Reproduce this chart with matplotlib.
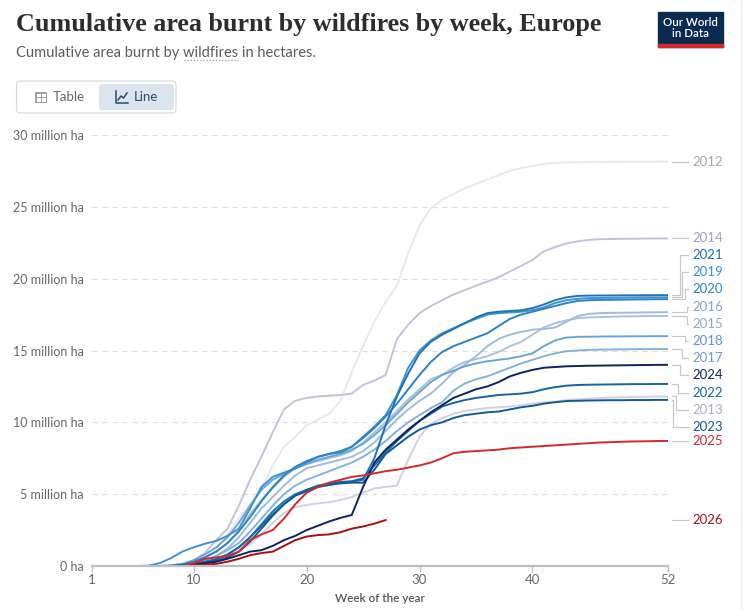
import matplotlib
matplotlib.use("Agg")
import matplotlib.pyplot as plt
import numpy as np
from matplotlib.patches import FancyBboxPatch, Rectangle
from matplotlib.lines import Line2D
from matplotlib.transforms import IdentityTransform

plt.rcParams['font.family'] = ['Lato', 'DejaVu Sans']

# cumulative burnt area, million ha, weeks 1..52
weeks = np.arange(1, 53)

y2012 = [0, 0, 0, 0, 0, 0, 0, 0, 0.05, 0.2, 0.5, 1.2, 2.2, 3.3, 4.3, 5.4, 7.0, 8.3, 9.0, 9.8,
         10.2, 10.6, 11.5, 13.5, 15.3, 17.0, 18.4, 19.5, 21.8, 23.7, 24.9, 25.5, 25.9, 26.3, 26.6, 26.9,
         27.2, 27.5, 27.7, 27.85, 28.0, 28.05, 28.1, 28.1, 28.12, 28.12, 28.13, 28.13, 28.14, 28.14, 28.15, 28.15]
y2013 = [0, 0, 0, 0, 0, 0, 0, 0, 0, 0.05, 0.15, 0.3, 0.6, 1.0, 1.5, 2.2, 3.0, 3.7, 4.1, 4.25,
         4.35, 4.45, 4.6, 4.8, 5.1, 5.4, 5.5, 5.6, 7.4, 9.0, 9.9, 10.3, 10.6, 10.8, 10.9, 11.0,
         11.05, 11.1, 11.2, 11.3, 11.4, 11.45, 11.55, 11.6, 11.65, 11.7, 11.72, 11.75, 11.77, 11.78, 11.8, 11.8]
y2014 = [0, 0, 0, 0, 0, 0, 0, 0, 0.1, 0.4, 0.9, 1.8, 2.6, 4.2, 6.0, 7.6, 9.3, 10.9, 11.5, 11.7,
         11.8, 11.85, 11.9, 12.0, 12.6, 12.9, 13.3, 15.8, 16.8, 17.6, 18.1, 18.5, 18.9, 19.2, 19.5, 19.8,
         20.1, 20.5, 20.9, 21.3, 21.9, 22.2, 22.45, 22.6, 22.7, 22.75, 22.76, 22.77, 22.78, 22.79, 22.8, 22.8]
y2015 = [0, 0, 0, 0, 0, 0, 0, 0.05, 0.1, 0.3, 0.6, 1.0, 1.6, 2.5, 3.6, 4.6, 5.4, 6.2, 6.8, 7.1,
         7.3, 7.5, 7.7, 8.0, 8.6, 9.3, 10.0, 10.8, 11.6, 12.3, 13.0, 13.3, 13.8, 14.2, 14.4, 14.6,
         14.9, 15.3, 15.6, 16.1, 16.6, 16.9, 17.1, 17.25, 17.3, 17.33, 17.35, 17.37, 17.38, 17.4, 17.4, 17.4]
y2016 = [0, 0, 0, 0, 0, 0, 0, 0, 0.05, 0.2, 0.4, 0.7, 1.2, 2.0, 3.0, 4.0, 4.8, 5.6, 6.3, 6.8,
         7.0, 7.2, 7.4, 7.6, 8.0, 8.6, 9.4, 10.2, 10.9, 11.5, 12.0, 12.7, 13.5, 14.0, 14.6, 15.3,
         15.8, 16.1, 16.3, 16.45, 16.5, 16.6, 17.0, 17.4, 17.55, 17.6, 17.62, 17.63, 17.64, 17.65, 17.66, 17.67]
y2017 = [0, 0, 0, 0, 0, 0, 0, 0, 0.05, 0.2, 0.4, 0.7, 1.1, 1.6, 2.4, 3.3, 4.2, 5.0, 5.6, 6.0,
         6.3, 6.6, 6.9, 7.2, 7.6, 8.1, 8.7, 9.4, 10.0, 10.5, 11.0, 11.4, 12.2, 12.7, 13.0, 13.2,
         13.5, 13.8, 14.1, 14.35, 14.6, 14.8, 14.95, 15.0, 15.05, 15.06, 15.07, 15.08, 15.09, 15.1, 15.1, 15.1]
y2018 = [0, 0, 0, 0, 0, 0, 0, 0.05, 0.15, 0.4, 0.8, 1.3, 2.0, 3.0, 4.2, 5.3, 6.0, 6.4, 6.8, 7.1,
         7.4, 7.6, 7.8, 8.1, 8.5, 9.1, 9.8, 10.6, 11.4, 12.1, 12.8, 13.3, 13.6, 13.9, 14.1, 14.25,
         14.35, 14.45, 14.6, 14.8, 15.3, 15.7, 15.9, 15.95, 15.96, 15.97, 15.98, 15.98, 15.99, 15.99, 16.0, 16.0]
y2019 = [0, 0, 0, 0, 0, 0.02, 0.2, 0.55, 1.0, 1.3, 1.55, 1.75, 2.1, 2.6, 4.0, 5.5, 6.2, 6.5, 6.8, 7.2,
         7.6, 7.8, 7.9, 8.3, 9.0, 9.7, 10.5, 11.9, 13.8, 15.0, 15.7, 16.2, 16.55, 16.9, 17.2, 17.5,
         17.6, 17.65, 17.7, 17.8, 18.0, 18.3, 18.5, 18.6, 18.65, 18.66, 18.67, 18.68, 18.69, 18.7, 18.7, 18.7]
y2020 = [0, 0, 0, 0, 0, 0, 0, 0, 0.1, 0.3, 0.6, 1.0, 1.6, 2.4, 3.4, 4.5, 5.5, 6.3, 6.9, 7.3,
         7.6, 7.8, 8.0, 8.3, 8.9, 9.6, 10.4, 11.3, 12.3, 13.3, 14.2, 14.9, 15.3, 15.6, 15.9, 16.2,
         16.7, 17.2, 17.5, 17.7, 17.9, 18.1, 18.3, 18.45, 18.5, 18.52, 18.53, 18.54, 18.55, 18.56, 18.57, 18.57]
y2021 = [0, 0, 0, 0, 0, 0, 0, 0, 0.05, 0.15, 0.3, 0.5, 0.8, 1.3, 2.0, 2.9, 3.8, 4.5, 5.0, 5.3,
         5.5, 5.65, 5.8, 5.85, 6.0, 7.5, 9.8, 11.8, 13.4, 14.8, 15.6, 16.1, 16.5, 16.9, 17.3, 17.6,
         17.7, 17.75, 17.8, 17.95, 18.2, 18.5, 18.7, 18.8, 18.82, 18.83, 18.83, 18.84, 18.84, 18.85, 18.85, 18.85]
y2022 = [0, 0, 0, 0, 0, 0, 0, 0, 0.05, 0.1, 0.25, 0.45, 0.8, 1.3, 2.0, 2.8, 3.6, 4.3, 4.9, 5.3,
         5.6, 5.75, 5.85, 5.9, 6.1, 7.0, 7.9, 8.7, 9.4, 10.1, 10.6, 11.1, 11.35, 11.55, 11.7, 11.8,
         11.9, 11.95, 12.0, 12.1, 12.3, 12.45, 12.55, 12.6, 12.62, 12.63, 12.64, 12.65, 12.66, 12.66, 12.67, 12.67]
y2023 = [0, 0, 0, 0, 0, 0, 0, 0, 0.05, 0.1, 0.2, 0.35, 0.6, 1.0, 1.7, 2.6, 3.5, 4.3, 4.9, 5.2,
         5.5, 5.65, 5.75, 5.8, 5.8, 6.7, 7.8, 8.4, 9.0, 9.5, 9.8, 10.0, 10.3, 10.5, 10.6, 10.7,
         10.75, 10.9, 11.05, 11.15, 11.3, 11.4, 11.48, 11.5, 11.52, 11.53, 11.54, 11.54, 11.55, 11.55, 11.56, 11.56]
y2024 = [0, 0, 0, 0, 0, 0, 0, 0, 0, 0.1, 0.2, 0.3, 0.5, 0.75, 1.0, 1.1, 1.4, 1.8, 2.1, 2.5,
         2.8, 3.1, 3.35, 3.55, 5.5, 7.2, 8.1, 8.8, 9.5, 10.1, 10.7, 11.2, 11.7, 12.0, 12.3, 12.5,
         12.8, 13.2, 13.45, 13.65, 13.8, 13.85, 13.9, 13.92, 13.94, 13.95, 13.96, 13.97, 13.98, 13.99, 14.0, 14.0]
y2025 = [0, 0, 0, 0, 0, 0, 0, 0, 0, 0.2, 0.5, 0.6, 0.7, 1.0, 1.8, 2.2, 2.5, 3.3, 4.3, 5.1,
         5.5, 5.8, 6.0, 6.2, 6.3, 6.45, 6.6, 6.7, 6.85, 7.0, 7.2, 7.5, 7.85, 7.95, 8.0, 8.05,
         8.1, 8.2, 8.25, 8.3, 8.35, 8.4, 8.45, 8.5, 8.55, 8.6, 8.62, 8.65, 8.67, 8.68, 8.7, 8.7]
y2026 = [0, 0, 0, 0, 0, 0, 0, 0, 0, 0.05, 0.1, 0.15, 0.3, 0.5, 0.75, 0.9, 1.0, 1.4, 1.8, 2.05,
         2.15, 2.2, 2.35, 2.6, 2.75, 2.95, 3.2]

years = ['2012', '2013', '2014', '2015', '2016', '2017', '2018', '2019',
         '2020', '2021', '2022', '2023', '2024', '2025', '2026']
series = [y2012, y2013, y2014, y2015, y2016, y2017, y2018, y2019,
          y2020, y2021, y2022, y2023, y2024, y2025, y2026]
line_colors = ['#ebe5f1', '#d3cfe6', '#c4c1df', '#a9c2de', '#9ebbdc', '#84b2db', '#6aa5d6', '#3f92d0',
               '#2b83c5', '#1c74b8', '#1565a6', '#115a98', '#0c2562', '#d3282c', '#a50f15']
label_colors = ['#a6a4b6', '#aeabc5', '#a29fbd', '#8fa7c6', '#8aa6ca', '#6f9dcc', '#5a95cc', '#3b8fd0',
                '#2a80c6', '#1a6fb3', '#1565a6', '#135a98', '#0c2562', '#d3282c', '#a50f15']

W, H = 748, 610
fig = plt.figure(figsize=(W / 100, H / 100), dpi=100)
fig.patch.set_facecolor('white')


def fx(px):
    return px / W


def fy(py):
    return 1 - py / H


ax = fig.add_axes([fx(92), fy(566), (668 - 92) / W, (566 - 135) / H])
ax.set_xlim(1, 52)
ax.set_ylim(0, 30)

for v in range(5, 31, 5):
    ax.axhline(v, color='#dcdcdc', lw=0.9, ls=(0, (4, 4)), zorder=0)

for ys, col in zip(series, line_colors):
    ax.plot(weeks[:len(ys)], ys, color=col, lw=1.4, solid_joinstyle='round', zorder=2)

for s in ['top', 'right', 'left']:
    ax.spines[s].set_visible(False)
ax.spines['bottom'].set_color('#bdbdbd')
ax.spines['bottom'].set_linewidth(1.6)

ax.set_xticks([1, 10, 20, 30, 40, 52])
ax.tick_params(axis='x', length=4, width=1, color='#bdbdbd', labelcolor='#666666', labelsize=9.5, pad=2)
ax.set_yticks(range(0, 31, 5))
ax.set_yticklabels(['0 ha'] + [f'{v} million ha' for v in range(5, 31, 5)])
ax.tick_params(axis='y', length=0, labelcolor='#666666', labelsize=9, pad=6)

fig.text(fx(380), fy(599), 'Week of the year', ha='center', va='center',
         fontsize=8.5, color='#555555', fontweight='semibold')

# end labels: overlapping ones are merged into groups centred on their mean
ends = [ys[-1] for ys in series]
px_per_unit = 431 / 30
gap = 17.2 / px_per_unit
merge = 12.5 / px_per_unit
order = sorted(range(len(series)), key=lambda i: -ends[i])
groups = [[i] for i in order]


def place(g):
    c = np.mean([ends[i] for i in g])
    return [c + (len(g) - 1) / 2 * gap - k * gap for k in range(len(g))]


changed = True
while changed:
    changed = False
    for j in range(len(groups) - 1):
        lo_upper = place(groups[j])[-1]
        hi_lower = place(groups[j + 1])[0]
        if lo_upper - hi_lower < merge:
            groups[j] = groups[j] + groups[j + 1]
            del groups[j + 1]
            changed = True
            break

pos = {}
for g in groups:
    for i, p in zip(g, place(g)):
        pos[i] = p

tr = ax.transData
x_end = tr.transform((52, 0))[0]
up = sorted([i for i in order if pos[i] - ends[i] > 0.1], key=lambda i: pos[i])
down = sorted([i for i in order if ends[i] - pos[i] > 0.1], key=lambda i: -pos[i])
kink = {}
for rk, i in enumerate(up):
    kink[i] = x_end + 19 - 2.3 * rk
for rk, i in enumerate(down):
    kink[i] = x_end + 19 - 2.3 * rk

for i in order:
    ye = tr.transform((52, ends[i]))[1]
    yl = tr.transform((52, pos[i]))[1]
    if i in kink:
        xs = [x_end + 4, kink[i], kink[i], x_end + 20]
        yy = [ye, ye, yl, yl]
    else:
        xs = [x_end + 4, x_end + 20]
        yy = [ye, ye]
    fig.add_artist(Line2D(xs, yy, color='#c8c8c8', lw=0.9, transform=IdentityTransform()))
    fig.text((x_end + 24) / W, yl / H, years[i], ha='left', va='center',
             fontsize=9.5, color=label_colors[i])

# header
title = fig.text(fx(16), fy(31), 'Cumulative area burnt by wildfires by week, Europe',
                 fontsize=17, fontweight='bold', color='#2d2d2d',
                 family=['Liberation Serif', 'DejaVu Serif'], va='baseline')
r = fig.canvas.get_renderer()
w = title.get_window_extent(r).width
title.set_fontsize(17 * 587 / w)

sub_pre = 'Cumulative area burnt by '
sub = fig.text(fx(16), fy(57), sub_pre + 'wildfires in hectares.', fontsize=10.5,
               color='#5b5b5b', va='baseline')
w = sub.get_window_extent(r).width
sub.set_fontsize(10.5 * 302 / w)
tmp = fig.text(fx(16), fy(57), sub_pre, fontsize=sub.get_fontsize(), va='baseline')
x0 = 16 + tmp.get_window_extent(r).width
tmp2 = fig.text(fx(16), fy(57), sub_pre + 'wildfires', fontsize=sub.get_fontsize(), va='baseline')
x1 = 16 + tmp2.get_window_extent(r).width
tmp.remove()
tmp2.remove()
fig.add_artist(Line2D([x0 + 1, x1], [H - 60, H - 60], color='#9a9a9a', lw=0.9,
                      ls=(0, (1, 1.5)), transform=IdentityTransform()))

# logo
fig.add_artist(Rectangle((658, H - 47), 65, 35, color='#0b2a51', transform=IdentityTransform()))
fig.add_artist(Rectangle((658, H - 47), 65, 3, color='#d52a2a', transform=IdentityTransform()))
fig.text(fx(690.5), fy(28), 'Our World\nin Data', ha='center', va='center', color='white',
         fontsize=8.3, linespacing=0.95, fontweight='semibold')

# table / line toggle
fig.add_artist(FancyBboxPatch((16.5, H - 113), 159.5, 32, boxstyle='round,pad=0,rounding_size=4',
                              fc='white', ec='#d9d9d9', lw=0.9, transform=IdentityTransform()))
fig.add_artist(FancyBboxPatch((99, H - 110), 75, 26, boxstyle='round,pad=0,rounding_size=3',
                              fc='#dbe5f0', ec='none', transform=IdentityTransform()))
fig.add_artist(Rectangle((35, H - 103), 12, 11, fc='#a0a0a0', ec='none', transform=IdentityTransform()))
for xx, yy0 in [(36.5, H - 101.5), (41.5, H - 101.5), (36.5, H - 97), (41.5, H - 97)]:
    fig.add_artist(Rectangle((xx, yy0), 4, 3.3, fc='white', ec='none', transform=IdentityTransform()))
fig.add_artist(Line2D([116, 116, 128], [H - 91, H - 103, H - 103], color='#2d4a6f', lw=1.1,
                      transform=IdentityTransform()))
fig.add_artist(Line2D([118, 121, 123.5, 127], [H - 100, H - 96, H - 98, H - 93], color='#2d4a6f',
                      lw=1.1, transform=IdentityTransform()))
fig.text(fx(53), fy(97), 'Table', ha='left', va='center', fontsize=9.5, color='#666666')
fig.text(fx(134), fy(97), 'Line', ha='left', va='center', fontsize=9.5, color='#2d4a6f')

fig.add_artist(Line2D([741, 741], [0, H], color='#ececec', lw=1, transform=IdentityTransform()))

fig.savefig('out.png', dpi=100)
